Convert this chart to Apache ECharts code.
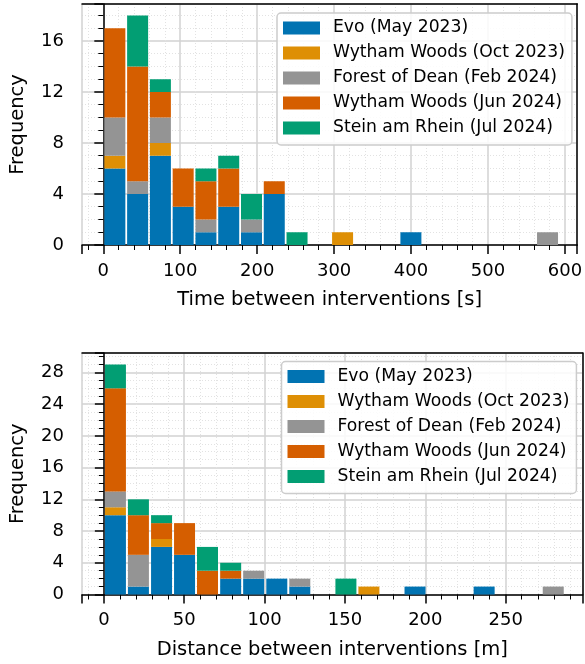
<!DOCTYPE html>
<html>
<head>
<meta charset="utf-8">
<script src="https://cdn.jsdelivr.net/npm/echarts@6/dist/echarts.min.js"></script>
<style>
  html, body { margin: 0; padding: 0; background: #fff; }
  #main { width: 585px; height: 664px; }
</style>
</head>
<body>
<div id="main"></div>
<script>
// legend names, shared by both panels
var siteNames = ['Evo (May 2023)', 'Wytham Woods (Oct 2023)', 'Forest of Dean (Feb 2024)', 'Wytham Woods (Jun 2024)', 'Stein am Rhein (Jul 2024)'];
var siteColors = ['#0173b2', '#de8f05', '#949494', '#d55e00', '#029e73'];

// top panel: bin centres [s] and counts per site
var timeBins = [15, 44.6, 74.2, 103.8, 133.4, 163, 192.6, 222.2, 251.8, 281.4, 311, 340.6, 370.2, 399.8, 429.4, 459, 488.6, 518.2, 547.8, 577.4];
var timeEvo     = [6, 4, 7, 3, 1, 3, 1, 4, 0, 0, 0, 0, 0, 1, 0, 0, 0, 0, 0, 0];
var timeWythOct = [1, 0, 1, 0, 0, 0, 0, 0, 0, 0, 1, 0, 0, 0, 0, 0, 0, 0, 0, 0];
var timeForest  = [3, 1, 2, 0, 1, 0, 1, 0, 0, 0, 0, 0, 0, 0, 0, 0, 0, 0, 0, 1];
var timeWythJun = [7, 9, 2, 3, 3, 3, 0, 1, 0, 0, 0, 0, 0, 0, 0, 0, 0, 0, 0, 0];
var timeStein   = [0, 4, 1, 0, 1, 1, 2, 0, 1, 0, 0, 0, 0, 0, 0, 0, 0, 0, 0, 0];

// bottom panel: bin centres [m] and counts per site
var distBins = [7.2, 21.5, 35.9, 50.2, 64.5, 78.9, 93.2, 107.6, 121.9, 136.2, 150.6, 164.9, 179.3, 193.6, 207.9, 222.3, 236.6, 251.0, 265.3, 279.6];
var distEvo     = [10, 1, 6, 5, 0, 2, 2, 2, 1, 0, 0, 0, 0, 1, 0, 0, 1, 0, 0, 0];
var distWythOct = [1, 0, 1, 0, 0, 0, 0, 0, 0, 0, 0, 1, 0, 0, 0, 0, 0, 0, 0, 0];
var distForest  = [2, 4, 0, 0, 0, 0, 1, 0, 1, 0, 0, 0, 0, 0, 0, 0, 0, 0, 0, 1];
var distWythJun = [13, 5, 2, 4, 3, 1, 0, 0, 0, 0, 0, 0, 0, 0, 0, 0, 0, 0, 0, 0];
var distStein   = [3, 2, 1, 0, 3, 1, 0, 0, 0, 0, 2, 0, 0, 0, 0, 0, 0, 0, 0, 0];

var FONT = 'DejaVu Sans';
var BAR_W = 21;

function makeX(idx, name, min, max) {
    return {
        type: 'value', gridIndex: idx, min: min, max: max, splitNumber: 6,
        name: name, nameLocation: 'middle', nameGap: 45,
        nameTextStyle: { fontFamily: FONT, fontSize: 19.5, color: '#000' },
        axisLine: { show: true, onZero: false, lineStyle: { color: '#000', width: 1.5 } },
        axisTick: { show: true, inside: false, length: 9, lineStyle: { color: '#000', width: 1.5 } },
        minorTick: { show: true, splitNumber: 5, length: 5, lineStyle: { color: '#000', width: 1 } },
        axisLabel: { fontFamily: FONT, fontSize: 18, color: '#000', margin: 17, showMinLabel: false, showMaxLabel: false },
        splitLine: { show: true, lineStyle: { color: '#d2d2d2', width: 1.5 } },
        minorSplitLine: { show: true, lineStyle: { color: '#e2e2e2', width: 1, type: [1, 2] } }
    };
}

function makeY(idx, max) {
    return {
        type: 'value', gridIndex: idx, min: 0, max: max, interval: 4,
        name: 'Frequency', nameLocation: 'middle', nameGap: 54,
        nameTextStyle: { fontFamily: FONT, fontSize: 19.5, color: '#000' },
        axisLine: { show: true, lineStyle: { color: '#000', width: 1.5 } },
        axisTick: { show: true, inside: false, length: 9, lineStyle: { color: '#000', width: 1.5 } },
        minorTick: { show: true, splitNumber: 4, length: 5, lineStyle: { color: '#000', width: 1 } },
        axisLabel: { fontFamily: FONT, fontSize: 18, color: '#000', margin: 18, showMaxLabel: false },
        splitLine: { show: true, lineStyle: { color: '#d2d2d2', width: 1.5 } },
        minorSplitLine: { show: true, lineStyle: { color: '#e2e2e2', width: 1, type: [1, 2] } }
    };
}

// plain black spine for the top / right side of a panel
function spine(idx, pos, min, max) {
    return {
        type: 'value', gridIndex: idx, position: pos, min: min, max: max, z: 5,
        axisLine: { show: true, onZero: false, lineStyle: { color: '#000', width: 1.5 } },
        axisTick: { show: false }, axisLabel: { show: false }, splitLine: { show: false }
    };
}

function makeLegend(left, top) {
    return {
        data: siteNames, orient: 'vertical', left: left, top: top,
        icon: 'rect', itemWidth: 37, itemHeight: 13, itemGap: 7,
        padding: [6, 7, 8, 6],
        backgroundColor: 'rgba(255,255,255,0.85)',
        borderColor: '#cccccc', borderWidth: 1.5, borderRadius: 4,
        selectedMode: false,
        textStyle: { fontFamily: FONT, fontSize: 17.2, color: '#000', lineHeight: 18, padding: [0, 0, 0, 8] }
    };
}

// stacked histogram bars: each item is [binCentre, bottom, top]
function renderBar(params, api) {
    var lo = api.coord([api.value(0), api.value(1)]);
    var hi = api.coord([api.value(0), api.value(2)]);
    return {
        type: 'rect',
        shape: { x: lo[0] - BAR_W / 2, y: hi[1], width: BAR_W, height: lo[1] - hi[1] },
        style: { fill: api.visual('color') }
    };
}

function stackSeries(bins, sets, axisIdx) {
    var base = bins.map(function () { return 0; });
    return sets.map(function (counts, k) {
        var data = [];
        bins.forEach(function (b, i) {
            if (counts[i] > 0) data.push([b, base[i], base[i] + counts[i]]);
            base[i] += counts[i];
        });
        return {
            type: 'custom', name: siteNames[k], xAxisIndex: axisIdx, yAxisIndex: axisIdx,
            itemStyle: { color: siteColors[k] },
            encode: { x: 0, y: [1, 2] },
            renderItem: renderBar,
            data: data
        };
    });
}

var series = stackSeries(timeBins, [timeEvo, timeWythOct, timeForest, timeWythJun, timeStein], 0)
    .concat(stackSeries(distBins, [distEvo, distWythOct, distForest, distWythJun, distStein], 1));

var chart = echarts.init(document.getElementById('main'), null, { renderer: 'canvas' });
chart.setOption({
    animation: false,
    backgroundColor: '#fff',
    textStyle: { fontFamily: FONT },
    grid: [
        { left: 78, top: 4, width: 500, height: 241 },
        { left: 78, top: 353, width: 504.5, height: 241.5 }
    ],
    legend: [makeLegend(277, 13), makeLegend(281.5, 361.5)],
    xAxis: [
        makeX(0, 'Time between interventions [s]', -27.7, 616),
        makeX(1, 'Distance between interventions [m]', -13.6, 297.8),
        spine(0, 'top', -27.7, 616),
        spine(1, 'top', -13.6, 297.8)
    ],
    yAxis: [makeY(0, 18.9), makeY(1, 30.45), spine(0, 'right', 0, 18.9), spine(1, 'right', 0, 30.45)],
    series: series
});
</script>
</body>
</html>
